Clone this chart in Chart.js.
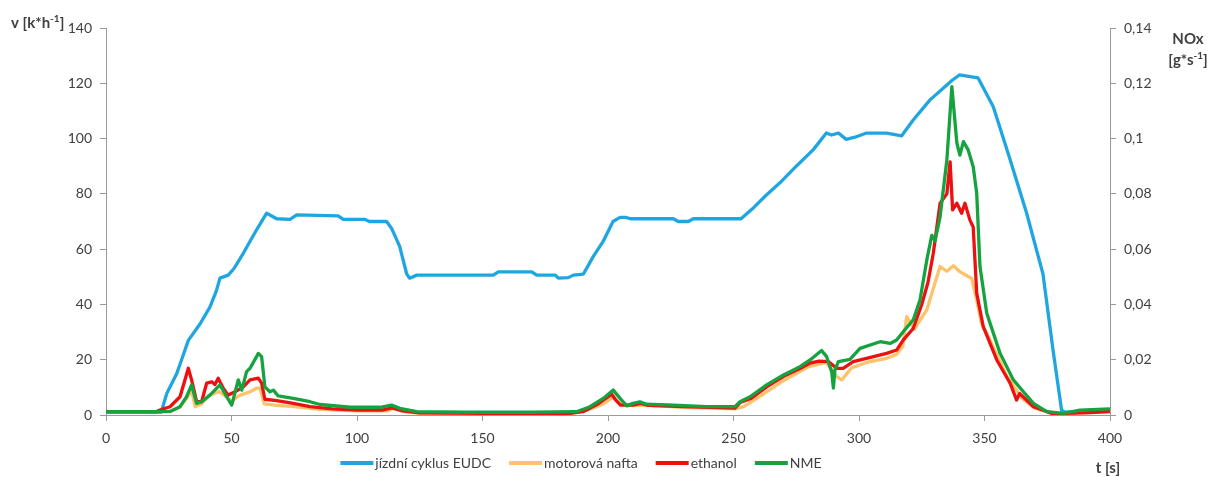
<!DOCTYPE html>
<html>
<head>
<meta charset="utf-8">
<script src="https://cdn.jsdelivr.net/npm/chart.js@4.4.1/dist/chart.umd.min.js"></script>
<style>
  html, body { margin: 0; padding: 0; background: #ffffff; }
  #wrap { width: 1225px; height: 477px; position: relative; }
</style>
</head>
<body>
<div id="wrap"><canvas id="c" width="1225" height="477"></canvas></div>
<script>
// Series labels (legend order)
const seriesLabels = ['jízdní cyklus EUDC', 'motorová nafta', 'ethanol', 'NME'];
const seriesColors = ['#1fa6e0', '#fcc36a', '#ec1111', '#16a23e'];

// Axis ticks
const timeTicks = [0, 50, 100, 150, 200, 250, 300, 350, 400];
const speedTicks = [0, 20, 40, 60, 80, 100, 120, 140];
const noxTickLabels = ['0', '0,02', '0,04', '0,06', '0,08', '0,1', '0,12', '0,14'];

// Driving cycle speed, [t (s), v (km/h)]
const eudc = [
  [0,1],[22,1],[24.2,7.8],[28.2,15],[30.5,21],[32.8,27],[37.5,33],[41.4,39],[44,45],
  [45.4,49.5],[48.7,50.6],[51,53],[54.7,58.5],[60,67],[64,73],[66,72],[68,71],
  [73.3,70.8],[76,72.4],[92.5,72],[94.5,70.8],[103,70.8],[105,70],[111.8,70],
  [113.8,67.5],[117,61],[119.8,51],[121,49.5],[123.8,50.6],[154.3,50.6],[156.3,51.8],
  [169.6,51.8],[171.6,50.6],[179,50.6],[180.2,49.5],[184.2,49.7],[186.2,50.6],
  [190.2,51],[194.1,57.3],[198,62.7],[202,70],[204.8,71.5],[207,71.5],[209,71],
  [226,71],[228,70],[232,70],[234,71],[253,71],[258,75],[263,79.5],[268.5,84],
  [275,90],[281.8,96],[287,102],[289,101.3],[291.8,102],[294.9,99.7],[298.4,100.5],
  [303,102],[311,102],[317,101],[321.6,106.7],[328.3,114],[335,119.4],[337,121],
  [340,123],[347.4,122],[353.5,111.5],[360,93],[366.8,73],[373.3,51],[377.3,23.5],
  [380.7,1.8],[382,1],[400,1.5]
];

// NOx, diesel fuel [t (s), g/s]
const nafta = [
  [0,0.0012],[20,0.0012],[25.5,0.0012],[29.5,0.003],[32.1,0.006],[34.1,0.009],
  [35.5,0.003],[38,0.004],[41,0.007],[45,0.0085],[48,0.0065],[50,0.005],[53,0.007],
  [57.4,0.0084],[60,0.0097],[61.4,0.0097],[63,0.004],[68,0.0035],[75,0.003],
  [85,0.002],[100,0.0015],[112,0.0015],[115,0.0025],[119,0.0012],[125,0.0006],
  [185,0.0006],[192,0.0018],[198,0.004],[202,0.0065],[205,0.004],[210,0.0035],
  [216,0.0035],[230,0.0028],[250.6,0.0022],[254,0.003],[260,0.0065],[270,0.0125],
  [280,0.0175],[287,0.019],[291,0.014],[293.1,0.0127],[297,0.017],[303,0.019],
  [311,0.0205],[315,0.022],[317.5,0.025],[319,0.0356],[322,0.031],[327,0.038],
  [329,0.044],[332.3,0.0537],[335,0.052],[337.6,0.054],[340.2,0.0518],[344.9,0.0494],
  [346.9,0.0416],[348.8,0.0332],[352.2,0.0271],[358.9,0.014],[365,0.006],
  [370,0.0025],[378,0.0005],[390,0.001],[400,0.0015]
];

// NOx, ethanol [t (s), g/s]
const ethanol = [
  [0,0.0012],[20,0.0012],[21.5,0.0018],[25.5,0.003],[29.5,0.0066],[32.8,0.0169],
  [34.1,0.0127],[36.1,0.0048],[38.1,0.0048],[40.1,0.0115],[42.1,0.012],[43.4,0.011],
  [44.7,0.0133],[46.7,0.0097],[48.7,0.0072],[51.4,0.0084],[54.7,0.0102],[57.4,0.0127],
  [60.7,0.0133],[62,0.0115],[63.3,0.0057],[68,0.0052],[74.6,0.0042],[81.3,0.003],
  [90,0.0022],[100,0.0018],[110,0.0018],[114,0.0026],[118,0.0015],[125,0.0008],
  [150,0.0006],[185,0.0006],[190,0.0012],[196,0.004],[201.5,0.0075],[203,0.0055],
  [205,0.0036],[210,0.0036],[213,0.0042],[216,0.0035],[230,0.003],[250.6,0.0025],
  [252.6,0.0045],[257,0.006],[263.2,0.0102],[270,0.014],[276.5,0.0168],[280.5,0.0188],
  [284,0.0195],[287.8,0.0193],[291.1,0.0169],[293.7,0.0169],[297.7,0.0193],[303,0.0205],
  [311,0.0223],[315,0.0235],[317.6,0.0271],[321.6,0.0313],[325,0.04],[327.5,0.048],
  [329.6,0.0585],[332.3,0.0766],[335,0.08],[336.3,0.0916],[337.3,0.0742],[339,0.0766],
  [340.9,0.073],[342.2,0.0766],[344.2,0.0705],[345.5,0.068],[346.9,0.044],[349.5,0.032],
  [354.9,0.0199],[360.2,0.0115],[362.8,0.0054],[364,0.0078],[369.5,0.003],[377,0.0005],
  [390,0.0008],[400,0.0012]
];

// NOx, NME (rapeseed methyl ester) [t (s), g/s]
const nme = [
  [0,0.0012],[20,0.0012],[25.5,0.0013],[29.5,0.003],[32.1,0.0066],[34.1,0.0109],
  [36.1,0.0042],[38.1,0.0048],[41.4,0.0072],[45.4,0.0109],[48.1,0.0066],[50.1,0.0036],
  [52.7,0.0127],[54.1,0.009],[56,0.0157],[57.4,0.0169],[60.7,0.0223],[62,0.0211],
  [63.3,0.0102],[65.3,0.0084],[66.7,0.009],[68.6,0.0069],[74.6,0.006],[81.3,0.0048],
  [85.3,0.0038],[97.2,0.0028],[109.2,0.0028],[113.8,0.0036],[117,0.0024],[123.8,0.0012],
  [143.7,0.001],[170,0.001],[187.5,0.0012],[192.8,0.003],[198.1,0.006],[202.1,0.009],
  [204.8,0.006],[207.5,0.0033],[210,0.0042],[212.7,0.0048],[215.4,0.0039],[226,0.0036],
  [239.3,0.003],[250.6,0.003],[252.6,0.0048],[256.6,0.0066],[263.2,0.0109],[269.9,0.0145],
  [276.5,0.0175],[280.5,0.0199],[285.1,0.0233],[287.1,0.0211],[289.1,0.0157],[289.8,0.0097],
  [290.4,0.0163],[291.8,0.0193],[296.4,0.0201],[300.4,0.0241],[308.4,0.0265],[312.4,0.0259],
  [315,0.0271],[317.6,0.0301],[321.6,0.0344],[324.3,0.0416],[327,0.056],[329,0.065],
  [330.3,0.063],[332.3,0.0717],[335,0.0922],[337,0.1188],[339,0.0983],[340.2,0.094],
  [341.6,0.0989],[343.5,0.0959],[345.5,0.0898],[346.9,0.0802],[348.2,0.0537],[350.9,0.0368],
  [356.2,0.0223],[361.5,0.0127],[365.5,0.0084],[369.5,0.0042],[374.8,0.0012],[381.4,0.0006],
  [388,0.0018],[400,0.0022]
];

const FONT = 'Lato, "Open Sans", sans-serif';
const TEXT = '#404040';
const AXIS = '#9a9a9a';

const toXY = arr => arr.map(p => ({ x: p[0], y: p[1] }));

// Axis titles with superscripts, and a bottom legend
const decorations = {
  id: 'decorations',
  afterDraw(chart) {
    const ctx = chart.ctx;
    ctx.save();
    ctx.fillStyle = TEXT;
    ctx.textBaseline = 'alphabetic';
    ctx.textAlign = 'left';

    const big = 'bold 15px ' + FONT;
    const sup = 'bold 10px ' + FONT;

    function supText(parts, x, y, align) {
      // parts: [[text, isSup], ...]
      let w = 0;
      parts.forEach(p => { ctx.font = p[1] ? sup : big; w += ctx.measureText(p[0]).width; });
      let cx = align === 'center' ? x - w / 2 : x;
      parts.forEach(p => {
        ctx.font = p[1] ? sup : big;
        ctx.fillText(p[0], cx, p[1] ? y - 6 : y);
        cx += ctx.measureText(p[0]).width;
      });
    }

    // left axis title
    supText([['v [k*h', false], ['-1', true], [']', false]], 11, 28, 'left');
    // right axis title
    supText([['NOx', false]], 1188, 44, 'center');
    supText([['[g*s', false], ['-1', true], [']', false]], 1188, 65, 'center');
    // x axis title
    supText([['t [s]', false]], 1108, 473, 'center');

    // legend
    const legendY = 463;
    const items = chart.data.datasets
      .map((d, i) => ({ label: d.label, color: d.borderColor, i }))
      .sort((a, b) => a.i - b.i);
    ctx.font = '14px ' + FONT;
    const sample = 33, gap = 2, between = 18;
    let total = 0;
    items.forEach(it => { total += sample + gap + ctx.measureText(it.label).width + between; });
    total -= between;
    let x = 581 - total / 2;
    items.forEach(it => {
      ctx.strokeStyle = it.color;
      ctx.lineWidth = 4;
      ctx.beginPath();
      ctx.moveTo(x, legendY);
      ctx.lineTo(x + sample, legendY);
      ctx.stroke();
      x += sample + gap;
      ctx.fillStyle = TEXT;
      ctx.textBaseline = 'middle';
      ctx.fillText(it.label, x, legendY);
      x += ctx.measureText(it.label).width + between;
    });
    ctx.restore();
  }
};

const lineStyle = { borderWidth: 3.3, pointRadius: 0, tension: 0, fill: false, borderJoinStyle: 'round' };

new Chart(document.getElementById('c'), {
  type: 'line',
  data: {
    datasets: [
      { label: seriesLabels[0], data: toXY(eudc), borderColor: seriesColors[0], yAxisID: 'y', order: 3, ...lineStyle },
      { label: seriesLabels[1], data: toXY(nafta), borderColor: seriesColors[1], yAxisID: 'y2', order: 2, ...lineStyle },
      { label: seriesLabels[2], data: toXY(ethanol), borderColor: seriesColors[2], yAxisID: 'y2', order: 1, ...lineStyle },
      { label: seriesLabels[3], data: toXY(nme), borderColor: seriesColors[3], yAxisID: 'y2', order: 0, ...lineStyle }
    ]
  },
  options: {
    responsive: false,
    animation: false,
    devicePixelRatio: 1,
    layout: { padding: { top: 28, left: 0, right: 0, bottom: 0 } },
    plugins: {
      legend: { display: false },
      tooltip: { enabled: false }
    },
    scales: {
      x: {
        type: 'linear',
        min: timeTicks[0],
        max: timeTicks[timeTicks.length - 1],
        afterBuildTicks: s => { s.ticks = timeTicks.map(v => ({ value: v })); },
        afterFit: s => { s.height = 62; },
        grid: { display: true, drawOnChartArea: false, drawTicks: true, tickLength: 6, color: AXIS },
        border: { display: true, color: AXIS, width: 1 },
        ticks: { color: TEXT, font: { family: FONT, size: 14 }, padding: 9, maxRotation: 0, autoSkip: false }
      },
      y: {
        position: 'left',
        min: speedTicks[0],
        max: speedTicks[speedTicks.length - 1],
        afterBuildTicks: s => { s.ticks = speedTicks.map(v => ({ value: v })); },
        afterFit: s => { s.width = 106; },
        grid: { display: true, drawOnChartArea: false, drawTicks: true, tickLength: 6, color: AXIS },
        border: { display: true, color: AXIS, width: 1 },
        ticks: { color: TEXT, font: { family: FONT, size: 14 }, padding: 8 }
      },
      y2: {
        position: 'right',
        min: 0,
        max: 0.14,
        afterBuildTicks: s => { s.ticks = noxTickLabels.map((l, i) => ({ value: i * 0.02 })); },
        afterFit: s => { s.width = 115; },
        grid: { display: true, drawOnChartArea: false, drawTicks: true, tickLength: 6, color: AXIS },
        border: { display: true, color: AXIS, width: 1 },
        ticks: {
          color: TEXT, font: { family: FONT, size: 14 }, padding: 8,
          callback: (v, i) => noxTickLabels[i]
        }
      }
    }
  },
  plugins: [decorations]
});
</script>
</body>
</html>
